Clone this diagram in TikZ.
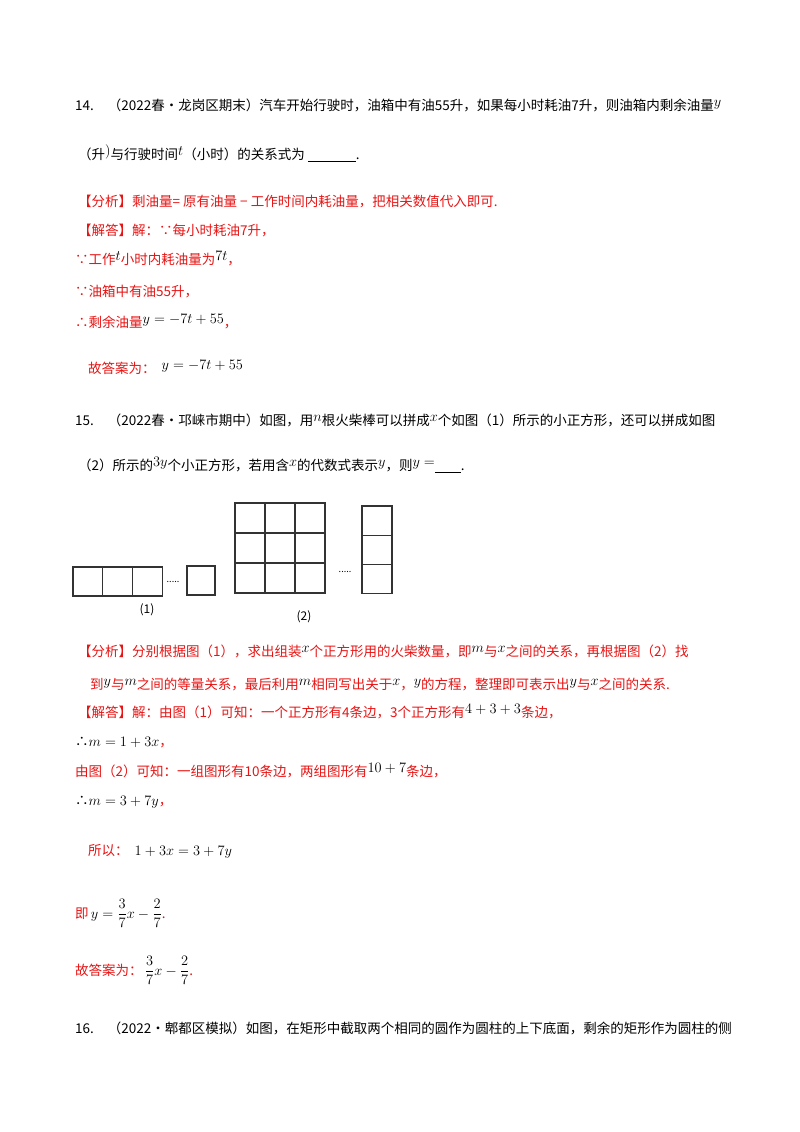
\documentclass[tikz,border=0pt]{standalone}
\usepackage{fontspec}
\setmainfont{Noto Sans CJK SC}
\usepackage{amsmath}
\definecolor{ansred}{RGB}{232,20,20}
\newcommand{\upm}[1]{\raisebox{4pt}{\textcolor{black}{$#1$}}}
\begin{document}
\begin{tikzpicture}[x=1pt,y=-1pt,
  txt/.style={anchor=base west,inner sep=0pt,font=\fontsize{13.5}{14}\selectfont},
  red/.style={txt,text=ansred},
  sq/.style={draw=black!80,line width=1.1pt}]
\useasboundingbox[fill=white] (0,0) rectangle (800,1132);
% Q14
\node[txt] (q14a) at (75,110) {14.\hspace{14pt}（2022春•龙岗区期末）汽车开始行驶时，油箱中有油55升，如果每小时耗油7升，则油箱内剩余油量\upm{y}};
\node[txt] (q14b) at (78,159) {（升\upm{)}与行驶时间\upm{t}（小时）的关系式为 \underline{\hspace{48pt}}.};
\node[red] (a14) at (78,206) {【分析】剩油量= 原有油量 − 工作时间内耗油量，把相关数值代入即可.};
\node[red] (s14) at (78,235) {【解答】解：∵每小时耗油7升，};
\node[red] (s14b) at (75,264) {∵工作\upm{t}小时内耗油量为\upm{7t}，};
\node[red] (s14c) at (75,296) {∵油箱中有油55升，};
\node[red] (s14d) at (75,327) {∴剩余油量\upm{y=-7t+55}，};
\node[red] (s14e) at (88,373) {故答案为：\ \ \upm{y=-7t+55}};
% Q15
\node[txt] (q15a) at (75,425) {15.\hspace{14pt}（2022春•邛崃市期中）如图，用\upm{n}根火柴棒可以拼成\upm{x}个如图（1）所示的小正方形，还可以拼成如图};
\node[txt] (q15b) at (78,470) {（2）所示的\upm{3y}个小正方形，若用含\upm{x}的代数式表示\upm{y}，则\upm{y=}\underline{\hspace{26pt}}.};
% figure
\foreach \i in {0,1,2} \draw[sq] (73+29.7*\i,567) rectangle ++(29.7,29);
\node[inner sep=0pt,font=\fontsize{9}{9}\selectfont] (d1) at (173,582) {.....};
\draw[sq] (187,566) rectangle (215,595);
\node[inner sep=0pt,font=\fontsize{12}{12}\selectfont] (l1) at (147,610) {(1)};
\foreach \i in {0,1,2} \foreach \j in {0,1,2} \draw[sq] (235+30*\i,503+30*\j) rectangle ++(30,30);
\node[inner sep=0pt,font=\fontsize{9}{9}\selectfont] (d2) at (345,572) {.....};
\foreach \j in {0,1,2} \draw[sq] (362,506+29.3*\j) rectangle ++(30,29.3);
\node[inner sep=0pt,font=\fontsize{12}{12}\selectfont] (l2) at (304,617) {(2)};
% solution 15
\node[red] (a15) at (78,656) {【分析】分别根据图（1），求出组装\upm{x}个正方形用的火柴数量，即\upm{m}与\upm{x}之间的关系，再根据图（2）找};
\node[red] (a15b) at (90,689) {到\upm{y}与\upm{m}之间的等量关系，最后利用\upm{m}相同写出关于\upm{x}，\upm{y}的方程，整理即可表示出\upm{y}与\upm{x}之间的关系.};
\node[red] (s15) at (78,717) {【解答】解：由图（1）可知：一个正方形有4条边，3个正方形有\upm{4+3+3}条边，};
\node[red] (s15b) at (75,746) {\textcolor{black}{∴$m=1+3x$}，};
\node[red] (s15c) at (75,776) {由图（2）可知：一组图形有10条边，两组图形有\upm{10+7}条边，};
\node[red] (s15d) at (75,805) {\textcolor{black}{∴$m=3+7y$}，};
\node[red] (s15e) at (88,855) {所以：\ \ \textcolor{black}{$1+3x=3+7y$}};
\node[red] (s15f) at (75,918) {即\,$\textcolor{black}{y=\dfrac{3}{7}x-\dfrac{2}{7}}$.};
\node[red] (s15g) at (75,975) {故答案为：\,$\textcolor{black}{\dfrac{3}{7}x-\dfrac{2}{7}}$.};
% Q16
\node[txt] (q16) at (75,1033) {16.\hspace{14pt}（2022•郫都区模拟）如图，在矩形中截取两个相同的圆作为圆柱的上下底面，剩余的矩形作为圆柱的侧};
\end{tikzpicture}
\end{document}
